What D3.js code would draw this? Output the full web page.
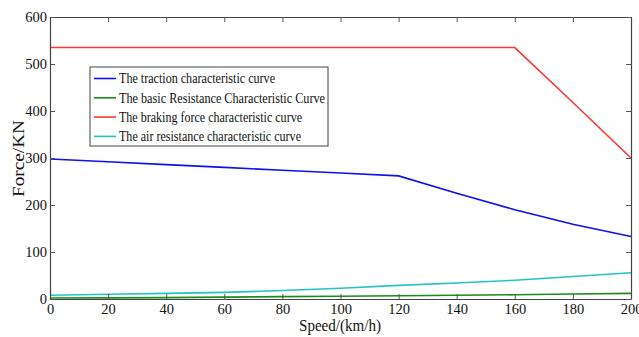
<!DOCTYPE html>
<html>
<head>
<meta charset="utf-8">
<script src="https://cdn.jsdelivr.net/npm/d3@7"></script>
<style>
  body { margin: 0; background: #fff; }
  svg { display: block; font-family: "Liberation Serif", "Times New Roman", serif; }
</style>
</head>
<body>
<svg id="chart"></svg>
<script>
const speeds = [0, 20, 40, 60, 80, 100, 120, 140, 160, 180, 200];
const traction = [298, 292, 286, 280, 274, 268, 262, 225, 190, 159, 133];
const basicRes = [2, 2.5, 3, 4, 5, 6, 7, 8, 9, 10.5, 12];
const braking = [535, 535, 535, 535, 535, 535, 535, 535, 535, 418, 300];
const airRes = [8, 10, 12, 14, 18, 23, 29, 34, 40, 48, 56];
const xTicks = [0, 20, 40, 60, 80, 100, 120, 140, 160, 180, 200];
const yTicks = [0, 100, 200, 300, 400, 500, 600];

const series = [
  { name: "The traction characteristic curve", values: traction, color: "#1010f0" },
  { name: "The basic Resistance Characteristic Curve", values: basicRes, color: "#1c8c1c" },
  { name: "The braking force characteristic curve", values: braking, color: "#ff3535" },
  { name: "The air resistance characteristic curve", values: airRes, color: "#22c4c4" }
];

const width = 639, height = 337;
const margin = { top: 17, right: 8, bottom: 38, left: 50 };

const svg = d3.select("#chart").attr("width", width).attr("height", height);

const x = d3.scaleLinear().domain([0, 200]).range([margin.left, width - margin.right]);
const y = d3.scaleLinear().domain([0, 600]).range([height - margin.bottom, margin.top]);

// series
const line = d3.line()
  .x((d, i) => x(speeds[i]))
  .y(d => y(d));

svg.append("g")
  .selectAll("path")
  .data(series)
  .join("path")
  .attr("fill", "none")
  .attr("stroke", d => d.color)
  .attr("stroke-width", 1.6)
  .attr("d", d => line(d.values));

// axes (ticks pointing inward, box all round)
const axisColor = "#444";
function styleAxis(g) {
  g.select(".domain").attr("stroke", axisColor).attr("stroke-width", 1.2);
  g.selectAll(".tick line").attr("stroke", "#555");
  g.selectAll(".tick text")
    .attr("fill", "#111")
    .style("font-size", "14.5px")
    .style("font-family", "Liberation Serif, serif");
}

svg.append("g")
  .attr("transform", `translate(0,${y(0)})`)
  .call(d3.axisBottom(x).tickValues(xTicks).tickSizeInner(-5).tickSizeOuter(0).tickPadding(5))
  .call(styleAxis);

svg.append("g")
  .attr("transform", `translate(0,${y(600)})`)
  .call(d3.axisTop(x).tickValues(xTicks).tickSizeInner(-5).tickSizeOuter(0).tickFormat(""))
  .call(styleAxis);

svg.append("g")
  .attr("transform", `translate(${x(0)},0)`)
  .call(d3.axisLeft(y).tickValues(yTicks).tickSizeInner(-5).tickSizeOuter(0).tickPadding(3))
  .call(styleAxis);

svg.append("g")
  .attr("transform", `translate(${x(200)},0)`)
  .call(d3.axisRight(y).tickValues(yTicks).tickSizeInner(-5).tickSizeOuter(0).tickFormat(""))
  .call(styleAxis);

// axis titles
svg.append("text")
  .attr("x", 340)
  .attr("y", 331)
  .attr("text-anchor", "middle")
  .style("font-size", "16px")
  .attr("fill", "#111")
  .attr("textLength", 82)
  .attr("lengthAdjust", "spacingAndGlyphs")
  .text("Speed/(km/h)");

svg.append("text")
  .attr("transform", "translate(24,158.5) rotate(-90)")
  .attr("text-anchor", "middle")
  .style("font-size", "17px")
  .attr("fill", "#111")
  .attr("textLength", 77)
  .attr("lengthAdjust", "spacingAndGlyphs")
  .text("Force/KN");

// legend
const legend = svg.append("g").attr("transform", "translate(90,67)");
legend.append("rect")
  .attr("width", 238)
  .attr("height", 79)
  .attr("fill", "#fff")
  .attr("stroke", "#444")
  .attr("stroke-width", 1);

const rows = legend.selectAll("g")
  .data(series)
  .join("g")
  .attr("transform", (d, i) => `translate(0,${11.5 + i * 19.3})`);

rows.append("line")
  .attr("x1", 4).attr("x2", 26)
  .attr("stroke", d => d.color)
  .attr("stroke-width", 1.6);

rows.append("text")
  .attr("x", 29)
  .attr("dy", "0.35em")
  .style("font-size", "14px")
  .attr("fill", "#111")
  .attr("textLength", (d, i) => [156, 206, 183, 182][i])
  .attr("lengthAdjust", "spacingAndGlyphs")
  .text(d => d.name);
</script>
</body>
</html>
